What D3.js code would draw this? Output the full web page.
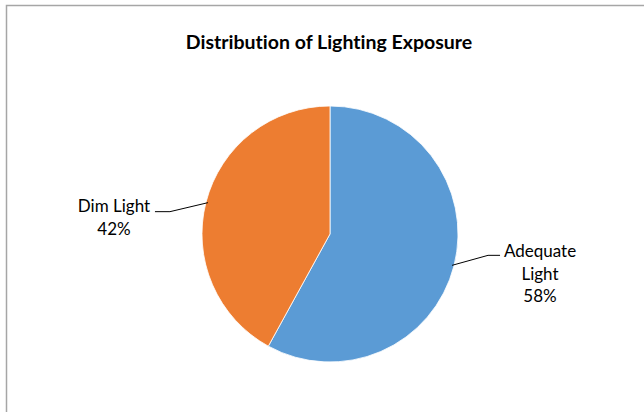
<!DOCTYPE html>
<html>
    <head>
        <script src="https://d3js.org/d3.v7.min.js"></script>
        <style>
            body { margin: 0; background: #fff; }
            text { font-family: Lato, "Liberation Sans", sans-serif; fill: #000; font-variant-ligatures: none; }
        </style>
    </head>
    <body>
        <svg height="412" width="644" id="chart"></svg>
        <script>
            const categories=["Adequate Light", "Dim Light"];
            const values=[58, 42];
            const labelLines=[["Adequate", "Light", "58%"], ["Dim Light", "42%"]];
            const colors=["#5b9bd5", "#ed7d31"];

            let svg=d3.select("#chart");
            let width=+svg.attr("width");
            let height=+svg.attr("height");

            // chart area border (runs off the right and bottom edge)
            svg.append("rect")
                .attr("x", 6.5).attr("y", 5.5)
                .attr("width", 660).attr("height", 430)
                .style("fill", "none")
                .style("stroke", "#a6a6a6")
                .style("stroke-width", 1.5);

            svg.append("text")
                .attr("x", 329).attr("y", 48.5)
                .attr("text-anchor", "middle")
                .style("font-weight", "bold")
                .style("font-size", "19.5px")
                .text("Distribution of Lighting Exposure");

            let cx=330, cy=234, r=128;
            let g=svg.append("g").attr("transform", `translate(${cx},${cy})`);

            let pie=d3.pie().sort(null).value(d=>d)(values);
            let arc=d3.arc().innerRadius(0).outerRadius(r);
            let edge=d3.arc().innerRadius(r-2).outerRadius(r-2);

            g.selectAll("path.slice")
                .data(pie)
                .enter().append("path")
                .attr("class", "slice")
                .attr("d", arc)
                .style("fill", (d,i)=>colors[i])
                .style("stroke", "#fff")
                .style("stroke-width", 0.8);

            // leader lines: edge point -> elbow -> short horizontal
            let elbowOffset=[[36, -10], [-38, 9]];
            let tailLen=[12, 15];
            pie.forEach((d,i)=>{
                let p=edge.centroid(d);
                let side=p[0]>0 ? 1 : -1;
                let e=[p[0]+elbowOffset[i][0], p[1]+elbowOffset[i][1]];
                let t=[e[0]+side*tailLen[i], e[1]];
                g.append("polyline")
                    .attr("points", [p, e, t].map(q=>q.join(",")).join(" "))
                    .style("fill", "none")
                    .style("stroke", "#000")
                    .style("stroke-width", 1);

                let lines=labelLines[i];
                let tx=side>0 ? t[0]+40 : t[0]-41;
                let ty=side>0 ? t[1]+2 : t[1]+0.5;
                let lbl=g.append("text")
                    .attr("text-anchor", "middle")
                    .style("font-size", "17px");
                lines.forEach((s,k)=>{
                    lbl.append("tspan")
                        .attr("x", tx)
                        .attr("y", ty+k*22.5)
                        .text(s);
                });
            });
        </script>
    </body>
</html>
